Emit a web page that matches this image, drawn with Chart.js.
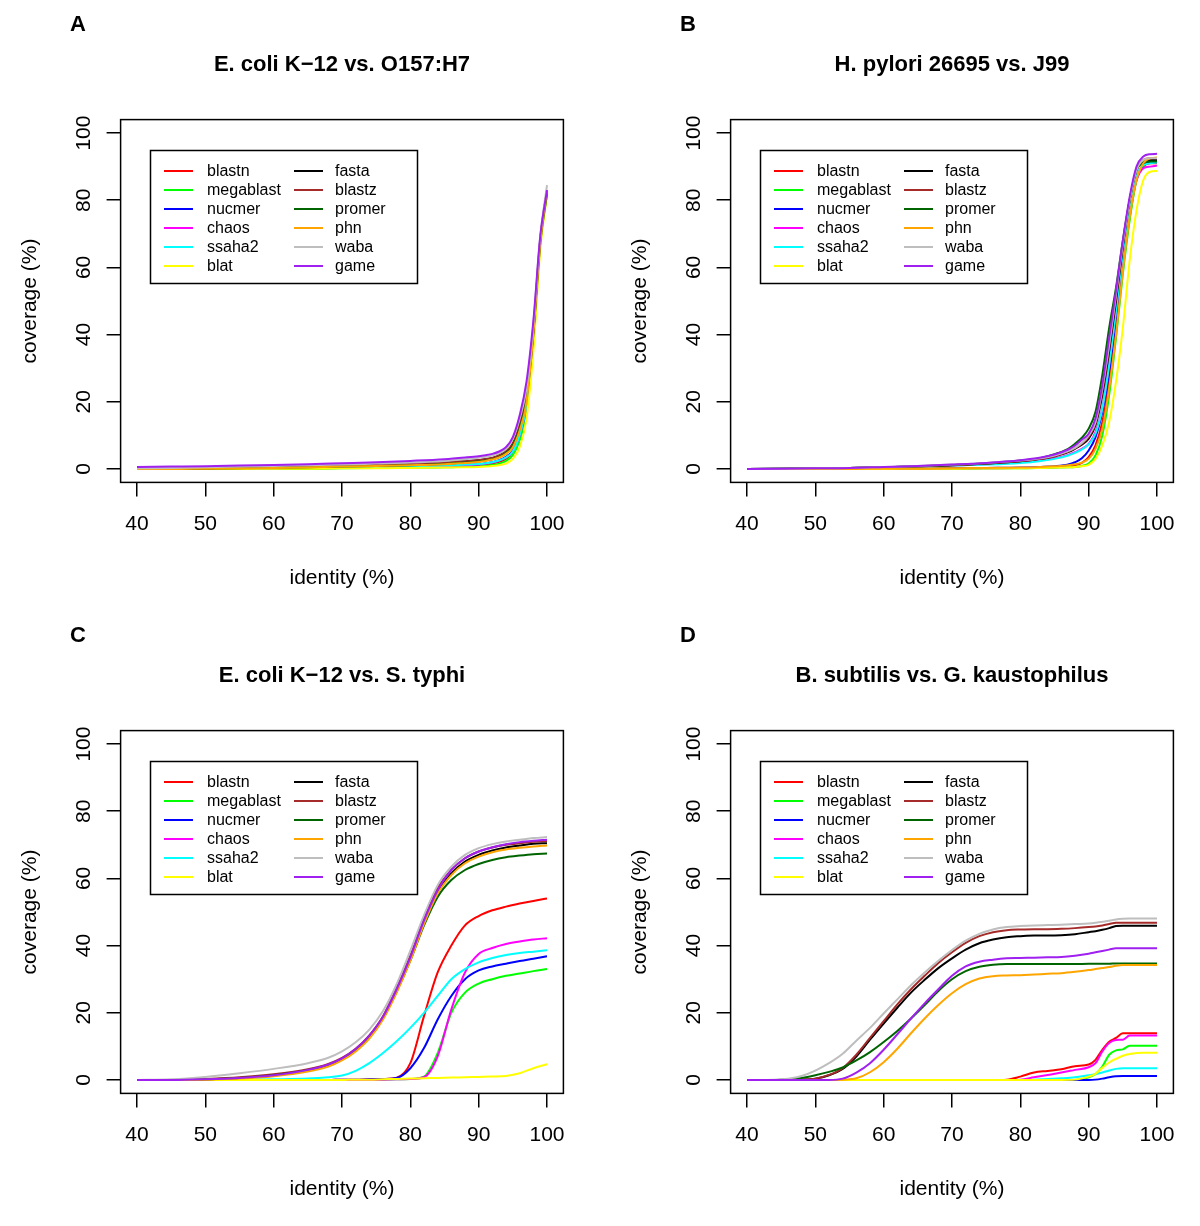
<!DOCTYPE html>
<html><head><meta charset="utf-8">
<script src="https://cdn.jsdelivr.net/npm/chart.js@4.4.1/dist/chart.umd.min.js"></script>
<style>
html,body{margin:0;padding:0;background:#fff;width:1200px;height:1226px;overflow:hidden;position:relative}
canvas{position:absolute;display:block}
</style></head><body>
<canvas id="cA" width="590" height="612" style="left:0;top:0"></canvas>
<canvas id="cB" width="590" height="612" style="left:610px;top:0"></canvas>
<canvas id="cC" width="590" height="612" style="left:0;top:611px"></canvas>
<canvas id="cD" width="590" height="612" style="left:610px;top:611px"></canvas>
<script>
// ---------- data ----------
const seriesNames = ["blastn","megablast","nucmer","chaos","ssaha2","blat","fasta","blastz","promer","phn","waba","game"];
const seriesColors = ["#FF0000","#00FF00","#0000FF","#FF00FF","#00FFFF","#FFFF00","#000000","#A52A2A","#006400","#FFA500","#BEBEBE","#A020F0"];
const xTicks = [40,50,60,70,80,90,100];
const yTicks = [0,20,40,60,80,100];
const panelLetters = ["A","B","C","D"];
const panelTitles = ["E. coli K\u221212 vs. O157:H7","H. pylori 26695 vs. J99","E. coli K\u221212 vs. S. typhi","B. subtilis vs. G. kaustophilus"];
const xLabel = "identity (%)";
const yLabel = "coverage (%)";

const identityA = [40,45,50,55,60,65,70,75,80,85,88,90,91,92,93,94,95,96,97,98,99,100];
const coverageA = [
 [0,0,0,0.1,0.1,0.2,0.3,0.4,0.5,0.7,0.9,1.1,1.3,1.6,2.1,3.0,4.8,9,18,38,67,82.5],
 [0,0,0,0,0.1,0.1,0.2,0.3,0.4,0.5,0.7,0.8,1.0,1.2,1.6,2.4,4.2,8.5,17,37,66,82],
 [0,0,0,0.1,0.2,0.3,0.4,0.5,0.7,0.9,1.2,1.4,1.7,2.0,2.6,3.6,5.5,10,19,39,67,82.5],
 [0,0,0,0.1,0.2,0.3,0.4,0.5,0.7,0.9,1.1,1.3,1.6,1.9,2.5,3.4,5.3,10,19,39,67,82],
 [0,0,0,0.1,0.2,0.3,0.4,0.6,0.8,1.0,1.3,1.5,1.7,2.0,2.5,3.4,5.2,10,19,39,67,82],
 [0,0,0,0,0.1,0.1,0.2,0.2,0.3,0.4,0.5,0.6,0.7,0.9,1.1,1.6,3.0,6.5,15,35,65,81.5],
 [0,0.1,0.2,0.4,0.6,0.8,1.0,1.2,1.5,1.9,2.3,2.6,2.9,3.3,4.0,5.2,7.5,13,22,41,68,83],
 [0,0.1,0.2,0.4,0.6,0.8,1.0,1.2,1.5,1.9,2.3,2.6,2.9,3.3,4.0,5.2,7.6,13,22,41,68,83],
 [0,0,0.1,0.2,0.4,0.5,0.7,0.9,1.1,1.5,1.9,2.2,2.5,2.9,3.6,4.8,7,12,21,40,67,82],
 [0,0,0.1,0.2,0.3,0.5,0.7,0.9,1.1,1.4,1.8,2.1,2.4,2.8,3.4,4.5,6.5,11.5,20,40,67,83],
 [0.2,0.3,0.5,0.7,0.9,1.1,1.3,1.6,1.9,2.4,2.9,3.3,3.6,4.0,4.7,6,9,15,24,43,69,84.5],
 [0.6,0.7,0.8,1.0,1.2,1.4,1.7,2.0,2.4,2.9,3.4,3.8,4.1,4.5,5.2,6.5,9.5,16,26,44,69,83]
];

const identityB = [40,45,50,55,60,65,70,75,80,83,85,87,88,89,90,91,92,93,94,95,96,97,98,99,100];
const coverageB = [
 [0,0,0,0,0.1,0.1,0.2,0.2,0.3,0.4,0.5,0.8,1.1,1.8,3.5,7,14,26,42,60,75,86,90,91,91],
 [0,0,0,0,0,0.1,0.1,0.2,0.2,0.3,0.4,0.5,0.6,0.9,1.6,4,10,22,39,58,74,86,90,91.5,91.5],
 [0,0,0,0,0.1,0.1,0.2,0.3,0.4,0.6,0.8,1.3,2.0,3.2,5.5,9.5,17,29,45,62,77,87,90.5,91.5,91.5],
 [0,0.1,0.2,0.3,0.5,0.7,1.0,1.4,2.0,2.6,3.2,4.2,5.0,6.0,7.5,11,18,31,47,63,77,86,89.5,90,90.3],
 [0,0.1,0.2,0.3,0.5,0.7,1.0,1.3,1.8,2.4,3.0,4.0,4.8,5.8,7.3,10.5,18,31,47,64,78,87,90.5,91,91.2],
 [0,0,0,0,0,0.1,0.1,0.2,0.2,0.3,0.4,0.5,0.6,0.8,1.2,3,7,14,26,42,62,77,86,88.5,88.7],
 [0,0.1,0.2,0.3,0.5,0.8,1.1,1.6,2.3,3.0,3.8,5.0,6.0,7.2,9,13,22,35,50,66,80,89,91.5,92,92],
 [0,0.1,0.2,0.3,0.5,0.8,1.1,1.6,2.3,3.0,3.8,5.2,6.2,7.5,9.5,13.5,23,36,51,67,80,89,92,92.5,92.5],
 [0,0.1,0.2,0.3,0.5,0.8,1.2,1.7,2.5,3.3,4.4,6.0,7.5,9.3,12,17,28,42,54,68,80,89,91,91.5,91.5],
 [0,0,0,0,0.1,0.1,0.2,0.3,0.4,0.6,0.8,1.1,1.4,1.9,3,6,12,24,40,59,75,86,91,92.5,92.7],
 [0,0.1,0.2,0.3,0.6,0.9,1.3,1.8,2.5,3.2,4.0,5.3,6.3,7.7,10,14,24,37,52,67,80,89,92,92.5,92.5],
 [0,0.1,0.2,0.3,0.6,0.9,1.3,1.8,2.6,3.4,4.3,5.8,7,8.7,10.5,15,25,39,53,68,81,90,93,93.7,93.8]
];

const identityC = [40,45,50,55,60,65,68,70,72,74,76,78,80,82,84,86,88,90,92,94,96,98,100];
const coverageC = [
 [0,0,0,0,0,0,0,0.1,0.1,0.2,0.3,0.7,5,19,32,40,46,48.8,50.5,51.6,52.5,53.3,54],
 [0,0,0,0,0,0,0,0,0,0,0.1,0.2,0.3,1,8,20,26,28.7,30,31,31.7,32.4,33],
 [0,0,0,0,0,0,0,0.1,0.1,0.2,0.3,0.6,3.5,9.5,18,25,30,32.6,33.8,34.6,35.4,36.1,36.8],
 [0,0,0,0,0,0,0,0,0,0,0.1,0.2,0.3,0.8,7,21,32,37.5,39.3,40.5,41.2,41.8,42.2],
 [0,0,0,0.1,0.2,0.4,0.8,1.3,2.7,5,8,11.5,15.5,20,25,30,33,35,36.3,37.2,37.8,38.2,38.6],
 [0,0,0,0,0,0,0,0,0.1,0.1,0.2,0.3,0.4,0.5,0.6,0.7,0.8,0.9,1,1.2,2,3.5,4.7],
 [0,0,0.2,0.6,1.4,2.9,4.5,6.3,9,13,18.5,26.5,36,47,56,61.5,65,67,68.3,69.2,69.8,70.3,70.5],
 [0,0,0.3,0.8,1.7,3.2,4.8,6.6,9.3,13.3,19,27.5,37,48,57,62.5,66,68,69.2,70,70.5,70.9,71.1],
 [0,0,0.2,0.6,1.4,2.9,4.5,6.3,9,12.8,18.3,26.3,35.5,46,54.5,59.5,62.5,64.3,65.5,66.3,66.8,67.2,67.4],
 [0,0,0.1,0.4,1.1,2.5,4,5.8,8.5,12.3,18,26,35.5,46.5,55.5,61,64.5,66.5,67.8,68.6,69.1,69.5,69.8],
 [0,0.2,0.9,2,3.3,5,6.6,8.5,11.2,15,20.5,28.5,38.5,49,58,63.5,67,69,70.2,71,71.5,72,72.3],
 [0,0,0.2,0.6,1.4,3,4.6,6.4,9.2,13.2,18.8,27,36.5,47.5,56.5,62.5,66,68,69.3,70.2,70.8,71.2,71.5]
];

const identityD = [40,44,46,48,50,52,54,56,58,60,62,64,66,68,70,72,74,76,78,80,82,84,86,88,90,91,92,93,94,95,96,98,100];
const coverageD = [
 [0,0,0,0,0,0,0,0,0,0,0,0,0,0,0,0,0,0,0.1,1.0,2.2,2.7,3.2,4.1,4.6,6,9,11.4,12.5,13.9,13.9,13.9,13.9],
 [0,0,0,0,0,0,0,0,0,0,0,0,0,0,0,0,0,0,0,0,0,0,0,0,0.8,1.8,4,7.5,8.8,9.1,10.2,10.2,10.2],
 [0,0,0,0,0,0,0,0,0,0,0,0,0,0,0,0,0,0,0,0,0,0,0,0,0,0.1,0.4,0.8,1.1,1.2,1.2,1.2,1.2],
 [0,0,0,0,0,0,0,0,0,0,0,0,0,0,0,0,0,0,0,0.1,0.8,1.5,2.2,3,3.8,5,8.5,11,11.9,12,13.2,13.2,13.2],
 [0,0,0,0,0,0,0,0,0,0,0,0,0,0,0,0,0,0,0,0,0.1,0.3,0.5,0.8,1.4,1.7,2.2,2.8,3.3,3.5,3.5,3.5,3.5],
 [0,0,0,0,0,0,0,0,0,0,0,0,0,0,0,0,0,0,0,0,0,0,0,0.1,1,1.8,3.6,5.2,6.3,7.2,7.7,8.1,8.1],
 [0,0,0,0.1,0.4,1.4,3.3,7,12,16.8,21.5,26,29.8,33.3,36.2,38.8,40.7,41.8,42.5,42.8,43,43,43.1,43.4,44,44.3,44.7,45.2,45.8,45.9,45.9,45.9,45.9],
 [0,0,0,0.1,0.4,1.5,3.5,7.5,12.5,17.5,22.5,27,31,34.8,38,40.8,42.8,44,44.6,44.8,44.9,44.9,45,45.2,45.5,45.7,46,46.4,46.8,46.8,46.8,46.8,46.8],
 [0,0,0.2,0.6,1.4,2.4,3.7,5.8,8.3,11.3,14.6,18.3,22.3,26.5,30,32.4,33.7,34.3,34.5,34.5,34.5,34.5,34.5,34.5,34.6,34.6,34.6,34.6,34.7,34.7,34.7,34.7,34.7],
 [0,0,0,0,0,0,0.1,0.5,2.3,5.3,9.3,13.9,18.3,22.3,25.8,28.5,30.2,30.9,31.1,31.2,31.4,31.6,31.8,32.2,32.7,33,33.3,33.6,34,34.2,34.2,34.2,34.2],
 [0,0.1,0.4,1.2,2.8,5,7.8,11.7,15.5,19.8,24,28.2,32,35.5,38.7,41.5,43.5,44.8,45.5,45.8,46,46.1,46.2,46.4,46.6,46.8,47.1,47.4,47.8,48,48.1,48.1,48.1],
 [0,0,0,0,0,0,0.4,2.2,5,9,13.6,18.3,22.8,27,31,33.8,35.2,35.8,36.2,36.3,36.4,36.5,36.6,37,37.6,38,38.4,38.8,39.2,39.2,39.2,39.2,39.2]
];

// ---------- drawing ----------
const FONT = '"Liberation Sans", Arial, Helvetica, sans-serif';
const CW = 590, CH = 612;
const AREA = {left:120.6, right:563.4, top:119.6, bottom:482.4};

const decor = {
  id: 'decor',
  afterDraw(chart, args, o) {
    const {ctx, chartArea: a} = chart;
    const xs = chart.scales.x, ys = chart.scales.y;
    ctx.save();
    ctx.strokeStyle = '#000';
    ctx.lineWidth = 1.5;
    ctx.strokeRect(a.left, a.top, a.right - a.left, a.bottom - a.top);
    ctx.fillStyle = '#000';
    ctx.font = 'bold 22px ' + FONT;
    ctx.textAlign = 'center'; ctx.textBaseline = 'middle';
    ctx.fillText(o.letter, 78, 25);
    ctx.fillText(o.title, (a.left + a.right) / 2, 65);
    ctx.font = '21px ' + FONT;
    xTicks.forEach(v => ctx.fillText(String(v), xs.getPixelForValue(v), 524));
    ctx.fillText(xLabel, (a.left + a.right) / 2, 578);
    yTicks.forEach(v => {
      ctx.save();
      ctx.translate(84, ys.getPixelForValue(v));
      ctx.rotate(-Math.PI / 2);
      ctx.fillText(String(v), 0, 0);
      ctx.restore();
    });
    ctx.save();
    ctx.translate(30, (a.top + a.bottom) / 2);
    ctx.rotate(-Math.PI / 2);
    ctx.fillText(yLabel, 0, 0);
    ctx.restore();
    ctx.lineWidth = 1.5;
    ctx.strokeRect(150.5, 150.5, 267, 133);
    ctx.font = '16px ' + FONT;
    ctx.textAlign = 'left';
    chart.data.datasets.forEach((d, i) => {
      const col = i < 6 ? 0 : 1;
      const row = i % 6;
      const yy = 171 + row * 19;
      const lx = col ? 294 : 164;
      ctx.strokeStyle = d.borderColor;
      ctx.lineWidth = 2;
      ctx.beginPath(); ctx.moveTo(lx, yy); ctx.lineTo(lx + 29, yy); ctx.stroke();
      ctx.fillStyle = '#000';
      ctx.fillText(d.label, col ? 335 : 207, yy + 1);
    });
    ctx.restore();
  }
};

function makePanel(id, idx, xs, vals) {
  const datasets = seriesNames.map((n, i) => ({
    label: n,
    data: xs.map((x, j) => ({x: x, y: vals[i][j]})),
    borderColor: seriesColors[i],
    backgroundColor: seriesColors[i],
    borderWidth: 2,
    pointRadius: 0,
    fill: false,
    cubicInterpolationMode: 'monotone',
    order: seriesNames.length - i
  }));
  new Chart(document.getElementById(id), {
    type: 'line',
    data: {datasets},
    options: {
      responsive: false, animation: false, events: [],
      layout: {padding: {left: 0, top: AREA.top, right: CW - AREA.right, bottom: 0}},
      plugins: {legend: {display: false}, tooltip: {enabled: false}, title: {display: false},
        decor: {letter: panelLetters[idx], title: panelTitles[idx]}},
      scales: {
        x: {type: 'linear', position: 'bottom', min: 37.6, max: 102.4,
          afterBuildTicks: s => { s.ticks = xTicks.map(v => ({value: v})); },
          afterFit: s => { s.height = CH - AREA.bottom; },
          ticks: {display: false},
          border: {display: false},
          grid: {display: true, drawOnChartArea: false, drawTicks: true, tickLength: 14, color: '#000', lineWidth: 1.5}
        },
        y: {type: 'linear', position: 'left', min: -4, max: 104,
          afterBuildTicks: s => { s.ticks = yTicks.map(v => ({value: v})); },
          afterFit: s => { s.width = AREA.left; },
          ticks: {display: false},
          border: {display: false},
          grid: {display: true, drawOnChartArea: false, drawTicks: true, tickLength: 14, color: '#000', lineWidth: 1.5}
        }
      }
    },
    plugins: [decor]
  });
}
makePanel('cA', 0, identityA, coverageA);
makePanel('cB', 1, identityB, coverageB);
makePanel('cC', 2, identityC, coverageC);
makePanel('cD', 3, identityD, coverageD);
</script>
</body></html>
